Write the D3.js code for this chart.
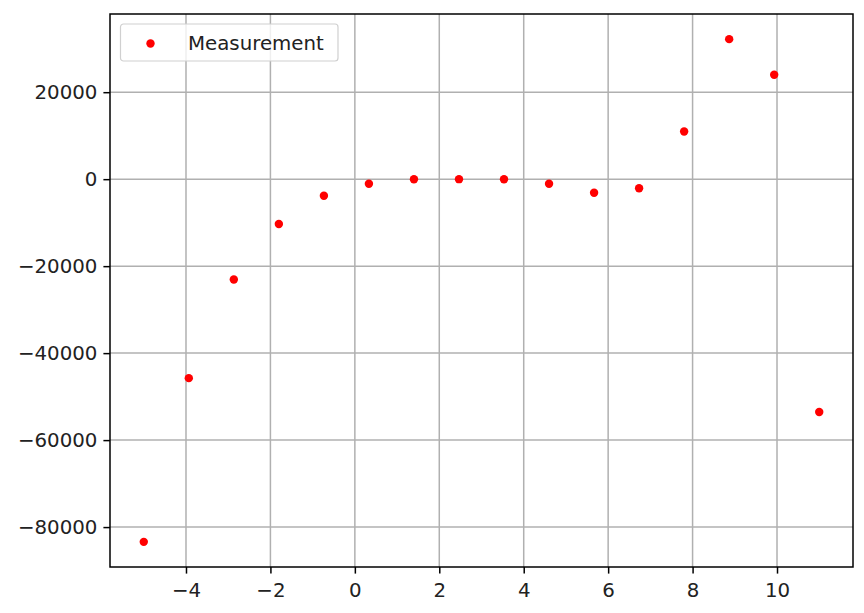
<!DOCTYPE html>
<html>
<head>
<meta charset="utf-8">
<script src="https://cdn.jsdelivr.net/npm/d3@7"></script>
<style>
  body { margin: 0; background: #fff; }
  svg { display: block; font-family: "DejaVu Sans", sans-serif; }
</style>
</head>
<body>
<svg width="864" height="613"></svg>
<script>
var xs = [-5, -3.933, -2.867, -1.8, -0.733, 0.333, 1.4, 2.467, 3.533, 4.6, 5.667, 6.733, 7.8, 8.867, 9.933, 11];
var ys = [-83400, -45750, -23080, -10320, -3800, -1070, -20, 0, -20, -1070, -3130, -2080, 10950, 32200, 24000, -53550];
var xTicks = [-4, -2, 0, 2, 4, 6, 8, 10];
var yTicks = [-80000, -60000, -40000, -20000, 0, 20000];
var seriesName = "Measurement";

var data = xs.map(function(x, i) { return {x: x, y: ys[i]}; });

var svg = d3.select("svg"),
    margin = {top: 14, right: 11, bottom: 46, left: 110},
    width = +svg.attr("width") - margin.left - margin.right,
    height = +svg.attr("height") - margin.top - margin.bottom,
    g = svg.append("g").attr("transform", "translate(" + margin.left + "," + margin.top + ")");

// matplotlib style 5% padding
var xr = d3.extent(xs), yr = d3.extent(ys);
var xp = (xr[1] - xr[0]) * 0.05, yp = (yr[1] - yr[0]) * 0.05;

var x = d3.scaleLinear()
    .domain([xr[0] - xp, xr[1] + xp])
    .range([0, width]);

var y = d3.scaleLinear()
    .domain([yr[0] - yp, yr[1] + yp])
    .range([height, 0]);

var fmt = function(d) { return String(d).replace("-", "\u2212"); };

// grid
g.append("g")
    .selectAll("line")
    .data(xTicks)
  .enter().append("line")
    .attr("x1", function(d) { return x(d); })
    .attr("x2", function(d) { return x(d); })
    .attr("y1", 0)
    .attr("y2", height)
    .attr("stroke", "#b0b0b0")
    .attr("stroke-width", 1.5);

g.append("g")
    .selectAll("line")
    .data(yTicks)
  .enter().append("line")
    .attr("x1", 0)
    .attr("x2", width)
    .attr("y1", function(d) { return y(d); })
    .attr("y2", function(d) { return y(d); })
    .attr("stroke", "#b0b0b0")
    .attr("stroke-width", 1.5);

// axes
var xAxis = g.append("g")
    .attr("transform", "translate(0," + height + ")")
    .call(d3.axisBottom(x).tickValues(xTicks).tickFormat(fmt).tickSize(6.6).tickPadding(6));

var yAxis = g.append("g")
    .call(d3.axisLeft(y).tickValues(yTicks).tickFormat(fmt).tickSize(6.6).tickPadding(6));

[xAxis, yAxis].forEach(function(a) {
  a.select(".domain").remove();
  a.selectAll(".tick line").attr("stroke", "#000").attr("stroke-width", 1.5);
  a.selectAll(".tick text")
      .attr("fill", "#222")
      .style("font-family", "DejaVu Sans")
      .style("font-size", "19.8px");
});
xAxis.selectAll(".tick text").attr("dy", "0.9em");

// frame
g.append("rect")
    .attr("width", width)
    .attr("height", height)
    .attr("fill", "none")
    .attr("stroke", "#000")
    .attr("stroke-width", 1.5);

// points
g.append("g")
    .selectAll("circle")
    .data(data)
  .enter().append("circle")
    .attr("cx", function(d) { return x(d.x); })
    .attr("cy", function(d) { return y(d.y); })
    .attr("r", 4.2)
    .attr("fill", "red");

// legend
var legend = g.append("g").attr("transform", "translate(10.5,10)");

legend.append("rect")
    .attr("width", 217.5)
    .attr("height", 37)
    .attr("rx", 3)
    .attr("fill", "#fff")
    .attr("fill-opacity", 0.8)
    .attr("stroke", "#d0d0d0")
    .attr("stroke-width", 1.2);

legend.append("circle")
    .attr("cx", 30)
    .attr("cy", 19.5)
    .attr("r", 4.2)
    .attr("fill", "red");

legend.append("text")
    .attr("x", 67.5)
    .attr("y", 19)
    .attr("dy", "0.35em")
    .attr("fill", "#222")
    .style("font-size", "19.8px")
    .text(seriesName);
</script>
</body>
</html>
